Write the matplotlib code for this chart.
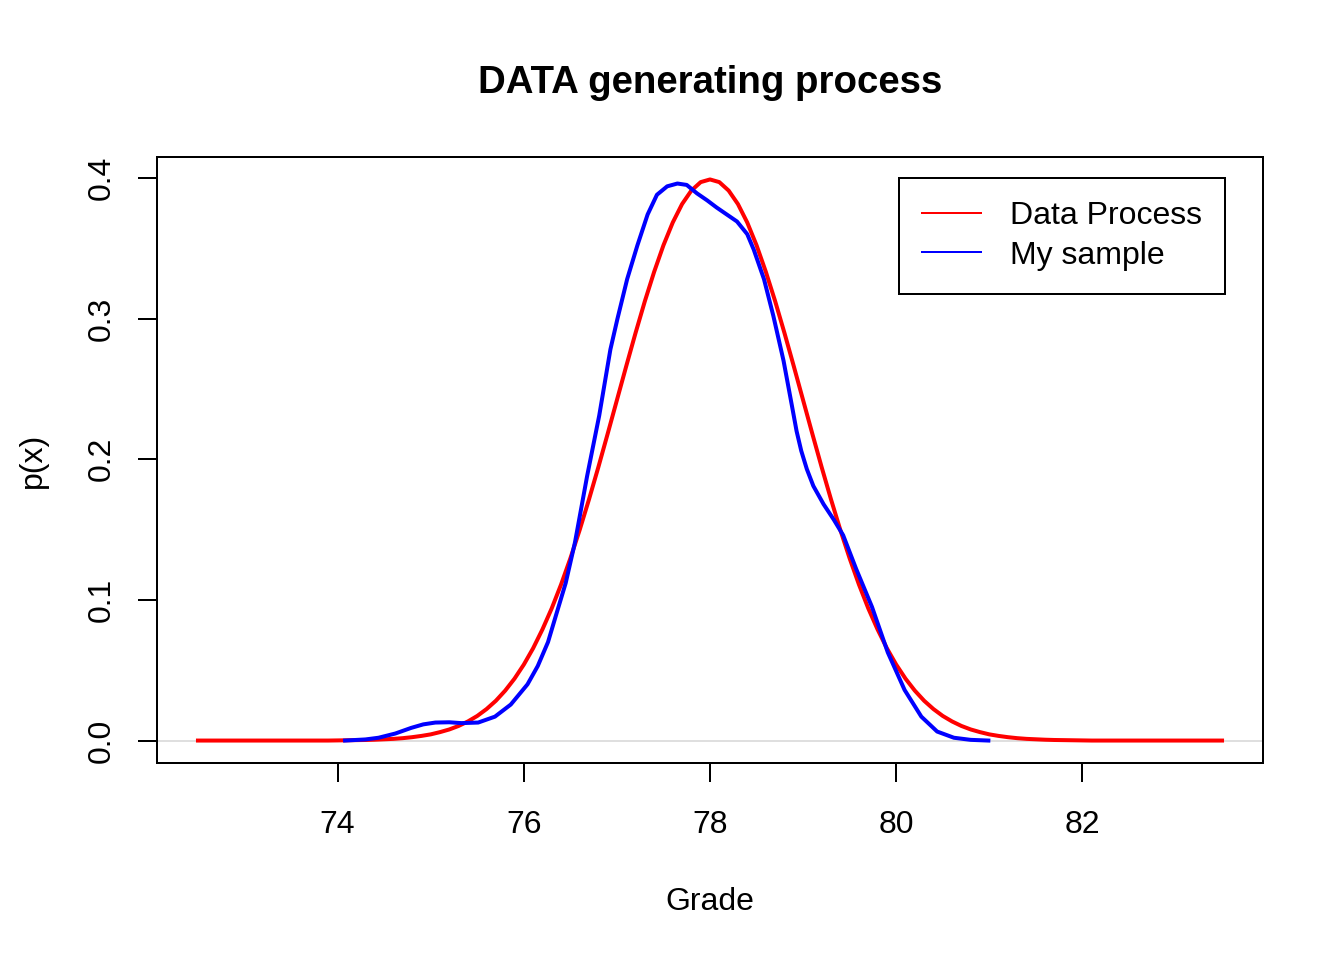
import matplotlib
matplotlib.use("Agg")
import matplotlib.pyplot as plt

plt.rcParams['font.family'] = ['Liberation Sans', 'DejaVu Sans']

# Red curve: "Data Process" (grid 72.5..83.5 by 0.1, density values)
process_x = [round(72.5 + 0.1 * i, 1) for i in range(111)]
process_y = [0.0, 0.0, 0.0, 0.0, 0.0, 0.0, 0.0, 0.0, 0.0, 0.0, 0.0, 0.0, 0.0, 0.0, 0.0,
             0.0001, 0.0002, 0.0003, 0.0004, 0.0006, 0.0009, 0.0012, 0.0017, 0.0024, 0.0033,
             0.0044, 0.0060, 0.0079, 0.0104, 0.0136, 0.0175, 0.0224, 0.0283, 0.0355, 0.0440,
             0.0540, 0.0656, 0.0790, 0.0940, 0.1109, 0.1295, 0.1497, 0.1714, 0.1942, 0.2179,
             0.2420, 0.2661, 0.2897, 0.3123, 0.3332, 0.3521, 0.3683, 0.3814, 0.3910, 0.3970,
             0.3989,
             0.3970, 0.3910, 0.3814, 0.3683, 0.3521, 0.3332, 0.3123, 0.2897, 0.2661, 0.2420,
             0.2179, 0.1942, 0.1714, 0.1497, 0.1295, 0.1109, 0.0940, 0.0790, 0.0656, 0.0540,
             0.0440, 0.0355, 0.0283, 0.0224, 0.0175, 0.0136, 0.0104, 0.0079, 0.0060, 0.0044,
             0.0033, 0.0024, 0.0017, 0.0012, 0.0009, 0.0006, 0.0004, 0.0003, 0.0002, 0.0001,
             0.0, 0.0, 0.0, 0.0, 0.0, 0.0, 0.0, 0.0, 0.0, 0.0, 0.0, 0.0, 0.0, 0.0, 0.0]

# Blue curve: "My sample" density estimate
sample_x = [74.08, 74.30, 74.44, 74.62, 74.79, 74.92, 75.05, 75.20, 75.33, 75.51,
            75.69, 75.86, 76.04, 76.15, 76.26, 76.35, 76.45, 76.55, 76.68, 76.81,
            76.93, 77.005, 77.11, 77.22, 77.33, 77.43, 77.54, 77.65, 77.75, 77.86,
            77.97, 78.07, 78.18, 78.29, 78.40, 78.47, 78.58, 78.68, 78.79, 78.88,
            78.93, 78.98, 79.04, 79.11, 79.22, 79.33, 79.43, 79.57, 79.74, 79.91,
            80.09, 80.27, 80.44, 80.62, 80.80, 80.99]
sample_y = [0.0, 0.0008, 0.002, 0.005, 0.009, 0.0115, 0.0128, 0.0130, 0.0124, 0.0128,
            0.017, 0.0256, 0.040, 0.053, 0.070, 0.090, 0.112, 0.141, 0.188, 0.231,
            0.278, 0.2996, 0.328, 0.352, 0.374, 0.388, 0.394, 0.396, 0.395, 0.389,
            0.384, 0.379, 0.374, 0.369, 0.360, 0.349, 0.328, 0.302, 0.270, 0.238,
            0.220, 0.206, 0.193, 0.181, 0.168, 0.157, 0.146, 0.122, 0.095, 0.0626,
            0.036, 0.017, 0.0064, 0.002, 0.0005, 0.0]

xticks = [74, 76, 78, 80, 82]
yticks = [0.0, 0.1, 0.2, 0.3, 0.4]
ytick_labels = ["0.0", "0.1", "0.2", "0.3", "0.4"]

fig = plt.figure(figsize=(7, 5), dpi=192)
ax = fig.add_axes([157 / 1344, 1 - 763 / 960, (1263 - 157) / 1344, (763 - 157) / 960])

ax.axhline(0, color='#d8d8d8', lw=0.6, zorder=1)
ax.plot(process_x, process_y, color='red', lw=1.5, label='Data Process', zorder=2,
        solid_joinstyle='round')
ax.plot(sample_x, sample_y, color='blue', lw=1.5, label='My sample', zorder=3,
        solid_joinstyle='round')

xmin, xmax = 72.5, 83.5
xr = xmax - xmin
ax.set_xlim(xmin - 0.04 * xr, xmax + 0.04 * xr)
ymax = max(process_y)
ax.set_ylim(-0.04 * ymax, ymax * 1.04)

ax.set_xticks(xticks)
ax.set_xticklabels([str(t) for t in xticks])
ax.set_yticks(yticks)
ax.set_yticklabels(ytick_labels, rotation=90, va='center')

for s in ax.spines.values():
    s.set_linewidth(0.75)
ax.tick_params(axis='both', length=7.2, width=0.75, labelsize=12, direction='out')
ax.tick_params(axis='x', pad=10.4)
ax.tick_params(axis='y', pad=8)

ax.set_xlabel('Grade', fontsize=12, labelpad=17.8)
ax.set_ylabel('p(x)', fontsize=12, labelpad=14.6)
ax.set_title('DATA generating process', fontsize=14.4, fontweight='bold', pad=24)

leg = ax.legend(loc='upper left', bbox_to_anchor=(80.03, 0.4), bbox_transform=ax.transData,
                fontsize=12, frameon=True, fancybox=False, edgecolor='black',
                framealpha=1, borderaxespad=0, borderpad=0.72, handlelength=1.85,
                handletextpad=0.9, labelspacing=0.3)
leg.get_frame().set_linewidth(0.75)
for h in leg.get_lines():
    h.set_linewidth(0.75)

fig.savefig('out.png', dpi=192)
